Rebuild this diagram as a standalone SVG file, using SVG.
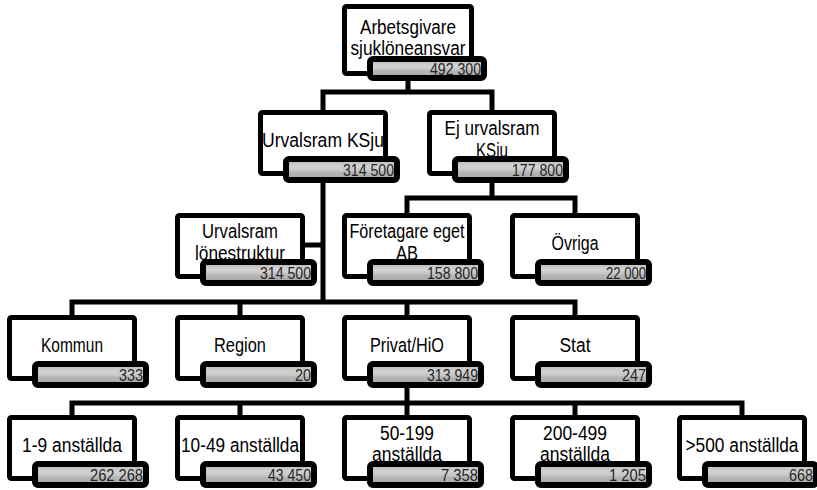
<svg xmlns="http://www.w3.org/2000/svg" width="817" height="490" viewBox="0 0 817 490">
<defs>
<linearGradient id="bg" x1="0" y1="0" x2="0" y2="1">
<stop offset="0" stop-color="#b4b4b4"/>
<stop offset="0.35" stop-color="#d2d2d2"/>
<stop offset="0.55" stop-color="#c6c6c6"/>
<stop offset="0.62" stop-color="#b6b6b6"/>
<stop offset="1" stop-color="#a6a6a6"/>
</linearGradient>
</defs>
<style>
.box{fill:#fff;stroke:#000;stroke-width:5}
.bar{fill:url(#bg);stroke:#000;stroke-width:6}
.lbl{font-family:"Liberation Sans",Arial,sans-serif;font-size:20px;fill:#000;text-anchor:middle}
.num{font-family:"Liberation Sans",Arial,sans-serif;font-size:16px;fill:#262626;text-anchor:end}
.con{fill:none;stroke:#000;stroke-width:5;stroke-linejoin:miter}
</style>
<rect width="817" height="490" fill="#fff"/>
<g id="connectors">
<path class="con" d="M408 80V92M323 110V92H492V110"/>
<path class="con" d="M323 183V302M305 245H323"/>
<path class="con" d="M492 183V198M407 213V198H575V213"/>
<path class="con" d="M72 315V302H575V315M240 302V315M407 302V315"/>
<path class="con" d="M407 388V403M72 415V403H742V415M240 403V415M407 403V415M575 403V415"/>
</g>
<g id="n-top">
<rect class="box" x="344.5" y="6.5" width="127" height="67" rx="2"/>
<text class="lbl" x="408" y="34" textLength="96" lengthAdjust="spacingAndGlyphs">Arbetsgivare</text>
<text class="lbl" x="408" y="55" textLength="115" lengthAdjust="spacingAndGlyphs">sjuklöneansvar</text>
<rect class="bar" x="370" y="59" width="114" height="19" rx="3"/>
<text class="num" x="481" y="75" textLength="51" lengthAdjust="spacingAndGlyphs">492 300</text>
</g>
<g id="n-urvalsram">
<rect class="box" x="260.5" y="112.5" width="125" height="61" rx="2"/>
<text class="lbl" x="323" y="147" textLength="122" lengthAdjust="spacingAndGlyphs">Urvalsram KSju</text>
<rect class="bar" x="286" y="159" width="111" height="21" rx="3"/>
<text class="num" x="394" y="176" textLength="51" lengthAdjust="spacingAndGlyphs">314 500</text>
</g>
<g id="n-ejurval">
<rect class="box" x="429.5" y="112.5" width="125" height="61" rx="2"/>
<text class="lbl" x="492" y="135" textLength="95" lengthAdjust="spacingAndGlyphs">Ej urvalsram</text>
<text class="lbl" x="492" y="157" textLength="32" lengthAdjust="spacingAndGlyphs">KSju</text>
<rect class="bar" x="455" y="159" width="111" height="21" rx="3"/>
<text class="num" x="563" y="176" textLength="51" lengthAdjust="spacingAndGlyphs">177 800</text>
</g>
<g id="n-lonestruktur">
<rect class="box" x="177.5" y="215.5" width="125" height="61" rx="2"/>
<text class="lbl" x="240" y="238" textLength="76" lengthAdjust="spacingAndGlyphs">Urvalsram</text>
<text class="lbl" x="240" y="260" textLength="90" lengthAdjust="spacingAndGlyphs">lönestruktur</text>
<rect class="bar" x="203" y="262" width="111" height="21" rx="3"/>
<text class="num" x="311" y="279" textLength="51" lengthAdjust="spacingAndGlyphs">314 500</text>
</g>
<g id="n-foretagare">
<rect class="box" x="344.5" y="215.5" width="125" height="61" rx="2"/>
<text class="lbl" x="407" y="238" textLength="115" lengthAdjust="spacingAndGlyphs">Företagare eget</text>
<text class="lbl" x="407" y="260" textLength="22" lengthAdjust="spacingAndGlyphs">AB</text>
<rect class="bar" x="370" y="262" width="111" height="21" rx="3"/>
<text class="num" x="478" y="279" textLength="51" lengthAdjust="spacingAndGlyphs">158 800</text>
</g>
<g id="n-ovriga">
<rect class="box" x="512.5" y="215.5" width="125" height="61" rx="2"/>
<text class="lbl" x="575" y="250" textLength="47" lengthAdjust="spacingAndGlyphs">Övriga</text>
<rect class="bar" x="538" y="262" width="111" height="21" rx="3"/>
<text class="num" x="646" y="279" textLength="40" lengthAdjust="spacingAndGlyphs">22 000</text>
</g>
<g id="n-kommun">
<rect class="box" x="9.5" y="317.5" width="125" height="61" rx="2"/>
<text class="lbl" x="72" y="352" textLength="62" lengthAdjust="spacingAndGlyphs">Kommun</text>
<rect class="bar" x="35" y="364" width="111" height="21" rx="3"/>
<text class="num" x="143" y="381" textLength="24" lengthAdjust="spacingAndGlyphs">333</text>
</g>
<g id="n-region">
<rect class="box" x="177.5" y="317.5" width="125" height="61" rx="2"/>
<text class="lbl" x="240" y="352" textLength="52" lengthAdjust="spacingAndGlyphs">Region</text>
<rect class="bar" x="203" y="364" width="111" height="21" rx="3"/>
<text class="num" x="311" y="381" textLength="16" lengthAdjust="spacingAndGlyphs">20</text>
</g>
<g id="n-privat">
<rect class="box" x="344.5" y="317.5" width="125" height="61" rx="2"/>
<text class="lbl" x="407" y="352" textLength="74" lengthAdjust="spacingAndGlyphs">Privat/HiO</text>
<rect class="bar" x="370" y="364" width="111" height="21" rx="3"/>
<text class="num" x="478" y="381" textLength="51" lengthAdjust="spacingAndGlyphs">313 949</text>
</g>
<g id="n-stat">
<rect class="box" x="512.5" y="317.5" width="125" height="61" rx="2"/>
<text class="lbl" x="575" y="352" textLength="31" lengthAdjust="spacingAndGlyphs">Stat</text>
<rect class="bar" x="538" y="364" width="111" height="21" rx="3"/>
<text class="num" x="646" y="381" textLength="24" lengthAdjust="spacingAndGlyphs">247</text>
</g>
<g id="n-1-9">
<rect class="box" x="9.5" y="417.5" width="125" height="61" rx="2"/>
<text class="lbl" x="72" y="452" textLength="100" lengthAdjust="spacingAndGlyphs">1-9 anställda</text>
<rect class="bar" x="35" y="464" width="111" height="21" rx="3"/>
<text class="num" x="143" y="481" textLength="53" lengthAdjust="spacingAndGlyphs">262 268</text>
</g>
<g id="n-10-49">
<rect class="box" x="177.5" y="417.5" width="125" height="61" rx="2"/>
<text class="lbl" x="240" y="452" textLength="118" lengthAdjust="spacingAndGlyphs">10-49 anställda</text>
<rect class="bar" x="203" y="464" width="111" height="21" rx="3"/>
<text class="num" x="311" y="481" textLength="43" lengthAdjust="spacingAndGlyphs">43 450</text>
</g>
<g id="n-50-199">
<rect class="box" x="344.5" y="417.5" width="125" height="61" rx="2"/>
<text class="lbl" x="407" y="440" textLength="54" lengthAdjust="spacingAndGlyphs">50-199</text>
<text class="lbl" x="407" y="461" textLength="70" lengthAdjust="spacingAndGlyphs">anställda</text>
<rect class="bar" x="370" y="464" width="111" height="21" rx="3"/>
<text class="num" x="478" y="481" textLength="37" lengthAdjust="spacingAndGlyphs">7 358</text>
</g>
<g id="n-200-499">
<rect class="box" x="512.5" y="417.5" width="125" height="61" rx="2"/>
<text class="lbl" x="575" y="440" textLength="64" lengthAdjust="spacingAndGlyphs">200-499</text>
<text class="lbl" x="575" y="461" textLength="70" lengthAdjust="spacingAndGlyphs">anställda</text>
<rect class="bar" x="538" y="464" width="111" height="21" rx="3"/>
<text class="num" x="646" y="481" textLength="37" lengthAdjust="spacingAndGlyphs">1 205</text>
</g>
<g id="n-500">
<rect class="box" x="679.5" y="417.5" width="125" height="61" rx="2"/>
<text class="lbl" x="742" y="452" textLength="113" lengthAdjust="spacingAndGlyphs">&gt;500 anställda</text>
<rect class="bar" x="705" y="464" width="111" height="21" rx="3"/>
<text class="num" x="813" y="481" textLength="24" lengthAdjust="spacingAndGlyphs">668</text>
</g>
</svg>
